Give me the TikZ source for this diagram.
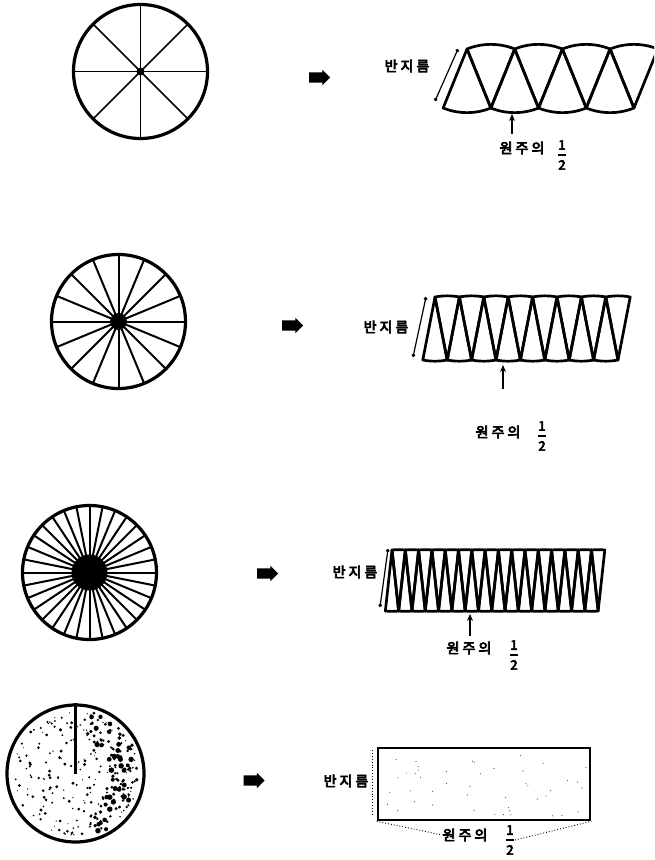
\documentclass[tikz,border=0pt]{standalone}
\usepackage{amsmath}
\usepackage{fontspec}
\usetikzlibrary{arrows.meta,shapes.arrows}
\newfontfamily\kor{Noto Sans CJK KR}[AutoFakeBold=5]

% row of sectors laid head to tail: left apex x, top y, chord, height, pairs
\newcommand{\fanstrip}[5]{%
  \pgfmathsetmacro{\stH}{#3/2}
  \pgfmathsetmacro{\stR}{sqrt((#4)*(#4)+\stH*\stH)}
  \pgfmathsetmacro{\stA}{atan(\stH/(#4))}
  \foreach \k in {1,...,#5}{
    \pgfmathsetmacro{\stX}{#1+(\k-1)*#3}
    \draw[sec] (\stX,#2) -- ++(90+\stA:\stR) arc[start angle=90+\stA,end angle=90-\stA,radius=\stR] -- cycle;
    \draw[sec] (\stX+\stH,#2+#4) -- ++(-90-\stA:\stR) arc[start angle=-90-\stA,end angle=-90+\stA,radius=\stR] -- cycle;
  }}

\begin{document}
\begin{tikzpicture}[x=1pt,y=-1pt,
  circ/.style={circle,draw,line width=3.2pt,inner sep=0pt,minimum size=134pt},
  spk/.style={line width=2pt},
  sec/.style={line width=2.7pt,line join=round},
  lab/.style={font=\kor\bfseries\fontsize{14}{14}\selectfont,inner sep=0pt},
  frc/.style={font=\kor\bfseries\fontsize{13}{13}\selectfont,inner sep=0pt},
  blk/.style={single arrow,fill,inner sep=0pt,minimum height=21pt,single arrow head extend=2.5pt},
  arr/.style={-{Stealth[length=7pt,width=6pt]},line width=1.8pt},
  dim/.style={{Circle[length=3.5pt]}-{Circle[length=3.5pt]},line width=1.2pt},
  dots/.style={dotted,line width=0.9pt}]
  \useasboundingbox (0,0) rectangle (654,860);
  \clip (0,0) rectangle (654,860);

  % 8 pieces
  \node[circ] (cA) at (140.5,71.5) {};
  \foreach \a in {0,45,...,315} \draw[spk,line width=1.5pt] (cA.center) -- ++(\a:66);
  \fill (cA.center) circle[radius=4];
  \node[blk] (goA) at (317,77.5) {\vrule width 0pt height 10pt};
  \fanstrip{467}{49}{47.7}{59}{4}
  \coordinate (topA) at (458,49);
  \coordinate (botA) at (435,101);
  \coordinate (tipA) at (512,114);
  \coordinate (tailA) at (512,134);
  \draw[dim] (topA) -- (botA);
  \node[lab] (radA) at (407,66) {반\hspace{3pt}지\hspace{3pt}름};
  \node[lab] (halfA) at (522,148) {원\hspace{3pt}주\hspace{3pt}의};
  \node[frc] (fracA) at (562,155) {$\genfrac{}{}{1.5pt}{0}{\text{1}}{\text{2}}$};
  \draw[arr] (tailA) -- (tipA);

  % 16 pieces
  \node[circ] (cB) at (118.5,321.5) {};
  \foreach \a in {0,22.5,...,337.5} \draw[spk] (cB.center) -- ++(\a:66);
  \fill (cB.center) circle[radius=8.5];
  \node[blk] (goB) at (290,325.5) {\vrule width 0pt height 10pt};
  \fanstrip{435}{297}{24.4}{63}{8}
  \coordinate (topB) at (426,297);
  \coordinate (botB) at (413,357);
  \coordinate (tipB) at (503,365);
  \coordinate (tailB) at (503,389);
  \draw[dim] (topB) -- (botB);
  \node[lab] (radB) at (386,327) {반\hspace{3pt}지\hspace{3pt}름};
  \node[lab] (halfB) at (498,432) {원\hspace{3pt}주\hspace{3pt}의};
  \node[frc] (fracB) at (542,436) {$\genfrac{}{}{1.5pt}{0}{\text{1}}{\text{2}}$};
  \draw[arr] (tailB) -- (tipB);

  % 32 pieces
  \node[circ] (cC) at (89.5,572.5) {};
  \foreach \i in {0,...,31} \draw[spk] (cC.center) -- ++(\i*11.25:66);
  \fill (cC.center) circle[radius=18];
  \node[blk] (goC) at (265,573.5) {\vrule width 0pt height 10pt};
  \fanstrip{392}{550}{13.3}{61}{16}
  \coordinate (topC) at (388,549);
  \coordinate (botC) at (380,607);
  \coordinate (tipC) at (470,614);
  \coordinate (tailC) at (470,636);
  \draw[dim] (topC) -- (botC);
  \node[lab] (radC) at (355,572) {반\hspace{3pt}지\hspace{3pt}름};
  \node[lab] (halfC) at (469,648) {원\hspace{3pt}주\hspace{3pt}의};
  \node[frc] (fracC) at (514,655) {$\genfrac{}{}{1.5pt}{0}{\text{1}}{\text{2}}$};
  \draw[arr] (tailC) -- (tipC);

  % no end of pieces
  \node[circ,minimum size=137pt] (cD) at (75.5,773.5) {};
  \draw[line width=2.2pt] (cD.center) -- (cD.north);
  \pgfmathsetseed{17}
  \foreach \i in {1,...,200}{
    \pgfmathsetmacro{\dr}{63*sqrt(rnd)}
    \pgfmathsetmacro{\dt}{360*rnd}
    \pgfmathsetmacro{\ds}{0.5+1.2*rnd}
    \fill (cD.center) ++(\dt:\dr) circle[radius=\ds];
  }
  \foreach \i in {1,...,90}{
    \pgfmathsetmacro{\dr}{36+28*rnd}
    \pgfmathsetmacro{\dt}{-75+150*rnd}
    \pgfmathsetmacro{\ds}{0.9+1.9*rnd}
    \fill (cD.center) ++(\dt:\dr) circle[radius=\ds];
  }
  \node[blk] (goD) at (251.5,780.5) {\vrule width 0pt height 10pt};
  \node[draw,line width=2.6pt,minimum width=212pt,minimum height=72pt,inner sep=0pt] (rectD) at (484,784) {};
  \foreach \i in {1,...,45}{
    \pgfmathsetmacro{\dx}{382+204*rnd}
    \pgfmathsetmacro{\dy}{752+64*rnd}
    \fill[black!70] (\dx,\dy) circle[radius=0.6];
  }
  \coordinate (topD) at (372,750);
  \coordinate (botD) at (372,815);
  \draw[dots] (topD) -- (botD);
  \node[lab] (radD) at (346,781) {반\hspace{3pt}지\hspace{3pt}름};
  \node[lab] (halfD) at (465,835) {원\hspace{3pt}주\hspace{3pt}의};
  \node[frc] (fracD) at (510,840) {$\genfrac{}{}{1.5pt}{0}{\text{1}}{\text{2}}$};
  \draw[dots] (rectD.south west) -- (halfD.west);
  \draw[dots] (fracD.east) -- (rectD.south east);
\end{tikzpicture}
\end{document}
